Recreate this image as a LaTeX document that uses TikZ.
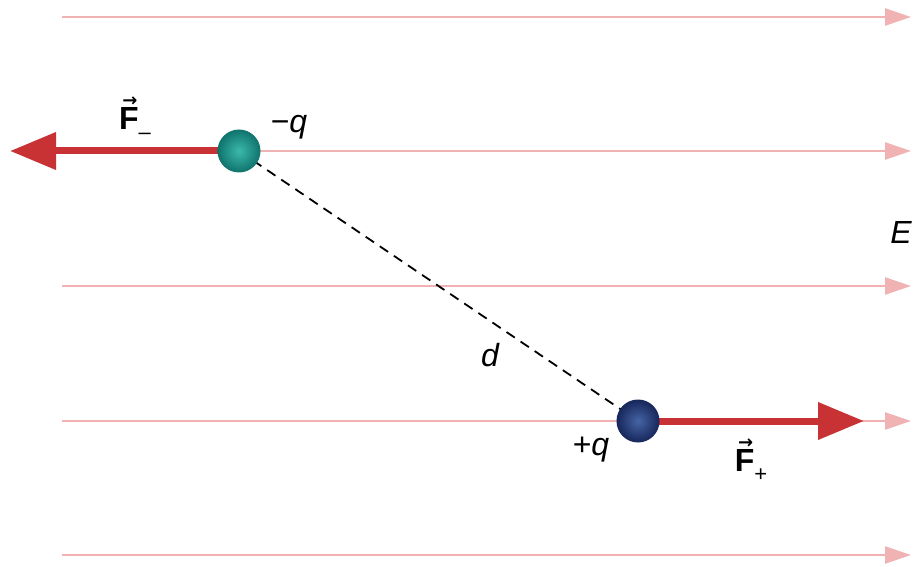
\documentclass[tikz,border=0pt]{standalone}
\usepackage{fontspec}
\setmainfont{Liberation Sans}
\newfontfamily\arrowfont{DejaVu Sans}
\usetikzlibrary{arrows.meta}
\definecolor{fieldpink}{RGB}{240,178,178}
\definecolor{forcered}{RGB}{200,50,52}
\definecolor{tealin}{RGB}{60,185,172}
\definecolor{tealout}{RGB}{15,115,108}
\definecolor{bluein}{RGB}{70,100,165}
\definecolor{blueout}{RGB}{22,38,90}
\newcommand{\vecF}[1]{\textbf{\makebox[0pt][l]{\raisebox{0.72em}{\hspace{0.1em}\arrowfont\fontsize{18}{18}\selectfont →}}F}\raisebox{-0.32em}{\fontsize{22}{22}\selectfont #1}}
\begin{document}
\begin{tikzpicture}[x=1pt,y=-1pt,
  fieldline/.style={draw=fieldpink,line width=2.6pt,-{Triangle[length=26pt,width=17pt]}},
  forcearrow/.style={draw=forcered,line width=7pt,-{Triangle[length=46pt,width=36pt]}},
  lbl/.style={font=\fontsize{32}{38}\selectfont,inner sep=0pt},
  charge/.style={circle,minimum size=43pt,inner sep=0pt}]
\useasboundingbox (0,0) rectangle (919,567);
\foreach \yy [count=\i] in {17,151,286,421,555}{
  \coordinate (ls\i) at (62,\yy);
  \coordinate (le\i) at (911,\yy);
  \draw[fieldline] (ls\i) -- (le\i);
}
\coordinate (fmtip) at (10,151);
\coordinate (fptip) at (864,421);
\node[charge] (neg) at (239,151) {};
\node[charge] (pos) at (638,421) {};
\draw[forcearrow] (neg.center) -- (fmtip);
\draw[forcearrow] (pos.center) -- (fptip);
\draw[line width=1.8pt,dash pattern=on 10pt off 7pt] (neg.center) -- (pos.center);
\shade[inner color=tealin,outer color=tealout] (neg.center) circle (21.5pt);
\shade[inner color=bluein,outer color=blueout] (pos.center) circle (21.5pt);
\node[lbl] (Fm) at (135,118) {\vecF{–}};
\node[lbl] (qm) at (289,127) {−\itshape q};
\node[lbl] (E) at (901,232) {\itshape E};
\node[lbl] (d) at (490,355) {\itshape d};
\node[lbl] (qp) at (591,450) {+\itshape q};
\node[lbl] (Fp) at (751,460) {\vecF{+}};
\end{tikzpicture}
\end{document}
